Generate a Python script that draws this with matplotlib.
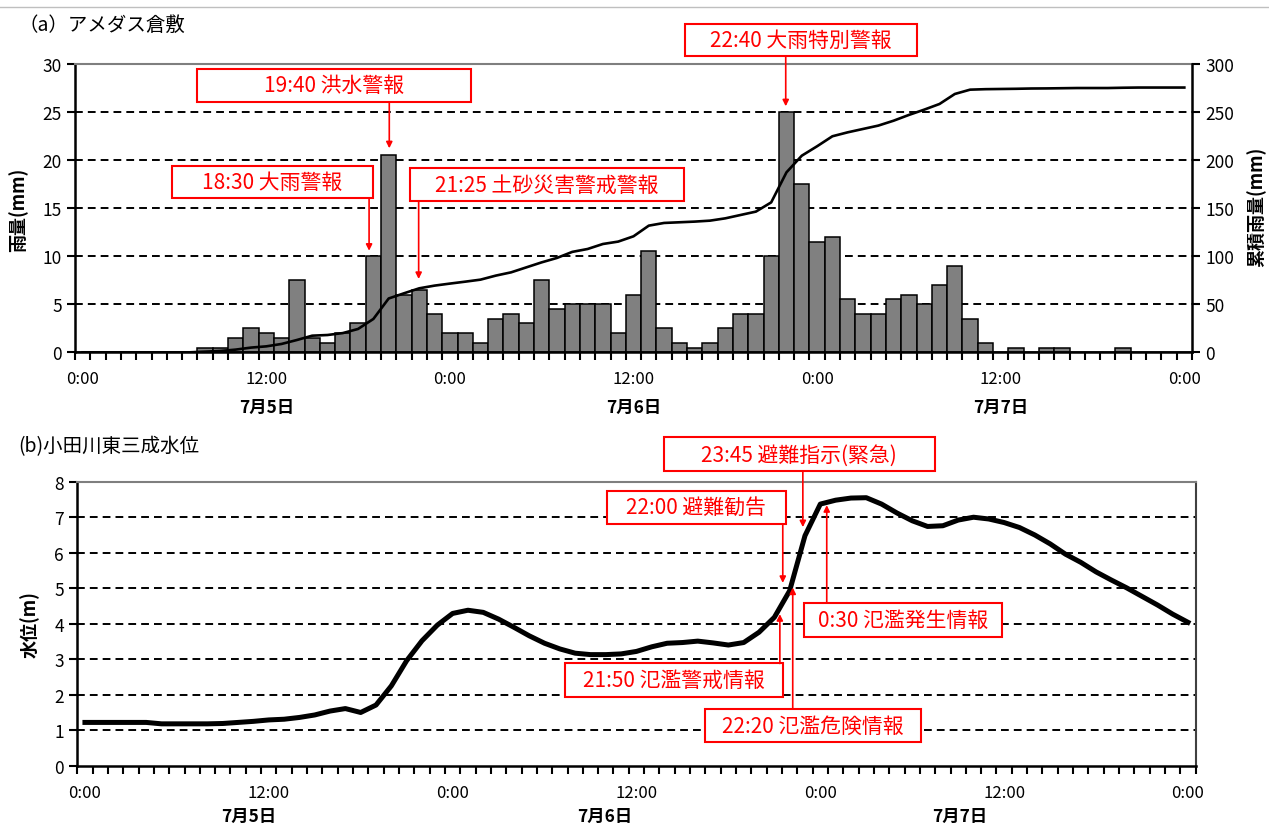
import numpy as np
import matplotlib
matplotlib.use("Agg")
import matplotlib.pyplot as plt
from matplotlib.patches import Rectangle
from matplotlib.lines import Line2D

plt.rcParams['font.family'] = ['Noto Sans CJK JP', 'DejaVu Sans']

# hourly categories from 7/5 0:00 to 7/8 0:00
hours = np.arange(73)
time_ticks = [0, 12, 24, 36, 48, 60, 72]
time_labels = ['0:00', '12:00', '0:00', '12:00', '0:00', '12:00', '0:00']
day_labels = ['7月5日', '7月6日', '7月7日']

# hourly rainfall at AMeDAS Kurashiki (mm)
rain = [0, 0, 0, 0, 0, 0, 0, 0, 0.5, 0.5,
        1.5, 2.5, 2.0, 1.5, 7.5, 1.5, 1.0, 2.0, 3.0, 10.0,
        20.5, 6.0, 6.5, 4.0, 2.0, 2.0, 1.0, 3.5, 4.0, 3.0,
        7.5, 4.5, 5.0, 5.0, 5.0, 2.0, 6.0, 10.5, 2.5, 1.0,
        0.5, 1.0, 2.5, 4.0, 4.0, 10.0, 25.0, 17.5, 11.5, 12.0,
        5.5, 4.0, 4.0, 5.5, 6.0, 5.0, 7.0, 9.0, 3.5, 1.0,
        0, 0.5, 0, 0.5, 0.5, 0, 0, 0, 0.5, 0,
        0, 0, 0]

# cumulative rainfall (mm)
rain_cum = [0, 0, 0, 0, 0, 0, 0, 0, 0.7, 1.4,
            2.8, 4.9, 6.2, 8.7, 12.8, 17.3, 18.0, 20.0, 24.3, 34.7,
            56.0, 61.4, 66.6, 69.4, 71.5, 73.5, 75.6, 79.8, 83.2, 88.4,
            93.6, 98.2, 104.5, 107.5, 112.7, 115.2, 120.7, 131.8, 134.6, 135.3,
            136.0, 137.0, 139.4, 142.9, 146.4, 156.0, 187.3, 204.6, 214.4, 224.8,
            228.9, 232.4, 235.9, 241.0, 247.0, 252.5, 258.4, 268.8, 273.3, 273.8,
            274.0, 274.2, 274.5, 274.6, 274.8, 275.0, 275.0, 275.0, 275.3, 275.5,
            275.5, 275.5, 275.5]

# water level at Odagawa Higashi-Mitsunari (m)
level = [1.22, 1.22, 1.22, 1.22, 1.22, 1.18, 1.18, 1.18, 1.18, 1.19,
         1.22, 1.25, 1.29, 1.31, 1.36, 1.43, 1.54, 1.61, 1.50, 1.71,
         2.25, 2.96, 3.52, 3.96, 4.29, 4.38, 4.32, 4.13, 3.90, 3.66,
         3.45, 3.29, 3.17, 3.13, 3.13, 3.15, 3.22, 3.35, 3.45, 3.47,
         3.51, 3.46, 3.40, 3.47, 3.76, 4.18, 4.93, 6.48, 7.37, 7.48,
         7.54, 7.55, 7.37, 7.12, 6.90, 6.74, 6.76, 6.92, 7.00, 6.95,
         6.85, 6.71, 6.50, 6.25, 5.96, 5.73, 5.46, 5.23, 5.01, 4.77,
         4.53, 4.27, 4.04]

# warnings: text, box (x0, x1, y0, y1), arrow (x, y_from, y_to)
rain_notes = [
    ('18:30 大雨警報', (5.84, 18.98, 16.06, 19.39), (18.72, 16.06, 10.57)),
    ('19:40 洪水警報', (7.47, 25.38, 26.05, 29.48), (20.04, 26.05, 21.23)),
    ('21:25 土砂災害警戒警報', (21.4, 39.3, 15.74, 19.18), (21.96, 15.74, 7.63)),
    ('22:40 大雨特別警報', (39.37, 54.53, 30.83, 34.16), (45.95, 30.83, 25.6)),
]
level_notes = [
    ('23:45 避難指示(緊急)', (37.79, 55.47, 8.29, 9.25), (46.86, 8.29, 6.72)),
    ('22:00 避難勧告', (34.07, 45.73, 6.81, 7.75), (45.55, 6.81, 5.15)),
    ('21:50 氾濫警戒情報', (31.36, 45.55, 1.95, 2.88), (45.36, 2.88, 4.27)),
    ('22:20 氾濫危険情報', (40.45, 54.6, 0.66, 1.60), (46.2, 1.60, 5.02)),
    ('0:30 氾濫発生情報', (46.92, 59.87, 3.62, 4.58), (48.42, 4.58, 7.34)),
]


def add_notes(ax, notes):
    for text, (x0, x1, y0, y1), (xa, ya, yb) in notes:
        ax.add_patch(Rectangle((x0, y0), x1 - x0, y1 - y0, facecolor='white',
                               edgecolor='red', lw=1.5, clip_on=False, zorder=6))
        ax.text((x0 + x1) / 2, (y0 + y1) / 2, text, color='red', fontsize=15,
                ha='center', va='center', zorder=7, clip_on=False)
        ax.annotate('', xy=(xa, yb), xytext=(xa, ya), annotation_clip=False,
                    arrowprops=dict(arrowstyle='-|>', color='red', lw=1.2,
                                    mutation_scale=9, shrinkA=0, shrinkB=0),
                    zorder=6)


def style_axis(ax, yticks, day_x, day_y):
    ax.set_xlim(-0.5, 72.5)
    ax.set_xticks(np.arange(-0.5, 73, 1))
    ax.set_xticklabels([])
    ax.set_xticks(time_ticks, minor=True)
    ax.set_xticklabels(time_labels, minor=True, fontsize=12)
    ax.tick_params(axis='x', which='major', direction='out', length=6, width=1.5)
    ax.tick_params(axis='x', which='minor', length=0, pad=13)
    ax.set_yticks(yticks)
    ax.tick_params(axis='y', direction='out', length=6, width=1.5, labelsize=12.5)
    for y in yticks[1:-1]:
        ax.axhline(y, color='black', lw=1.4, ls=(0, (4, 2.6)), zorder=0.5)
    for s in ['left', 'bottom']:
        ax.spines[s].set_linewidth(1.8)
    ax.spines['top'].set_color('#7f7f7f')
    ax.spines['top'].set_linewidth(1.5)
    for x, label in zip(day_x, day_labels):
        ax.text(x, day_y, label, transform=ax.get_xaxis_transform(),
                ha='center', va='center', fontsize=12.5, fontweight='bold')


fig = plt.figure(figsize=(12.69, 8.28), dpi=100)
fig.add_artist(Line2D([0, 1], [0.990, 0.990], color='#bfbfbf', lw=1))

# (a) rainfall
ax = fig.add_axes([0.0591, 0.5733, 0.8802, 0.3482])
ax.bar(hours, rain, width=1.0, color='#808080', edgecolor='black', lw=1.1, zorder=2)
ax.set_ylim(0, 30)
style_axis(ax, np.arange(0, 31, 5), [12, 36, 60], -0.19)
ax.spines['right'].set_visible(False)

ax2 = ax.twinx()
ax2.plot(hours, rain_cum, color='black', lw=1.9, zorder=3)
ax2.set_ylim(0, 300)
ax2.set_yticks(np.arange(0, 301, 50))
ax2.tick_params(axis='y', direction='out', length=6, width=1.5, labelsize=12.5)
ax2.spines['right'].set_linewidth(1.8)
ax2.spines['top'].set_visible(False)
ax2.spines['left'].set_visible(False)
ax2.spines['bottom'].set_visible(False)

add_notes(ax, rain_notes)

fig.text(18 / 1269, 1 - 25 / 828, '（a）アメダス倉敷', fontsize=14, va='center', ha='left')
fig.text(18 / 1269, 1 - 210 / 828, '雨量(mm)', fontsize=13, fontweight='bold',
         rotation=90, ha='center', va='center')
fig.text(1256 / 1269, 1 - 207 / 828, '累積雨量(mm)', fontsize=13, fontweight='bold',
         rotation=90, ha='center', va='center')

# (b) water level
bx = fig.add_axes([0.0609, 0.0740, 0.8813, 0.3430])
bx.plot(hours, level, color='black', lw=3.6, solid_joinstyle='round', zorder=3)
bx.set_ylim(0, 8)
style_axis(bx, np.arange(0, 9, 1), [10.7, 33.9, 57.1], -0.177)
bx.spines['right'].set_color('#404040')
bx.spines['right'].set_linewidth(1.5)

add_notes(bx, level_notes)

fig.text(18 / 1269, 1 - 447 / 828, '(b)小田川東三成水位', fontsize=14, va='center', ha='left')
fig.text(30 / 1269, 1 - 625 / 828, '水位(m)', fontsize=13, fontweight='bold',
         rotation=90, ha='center', va='center')

fig.savefig('out.png', dpi=100)
